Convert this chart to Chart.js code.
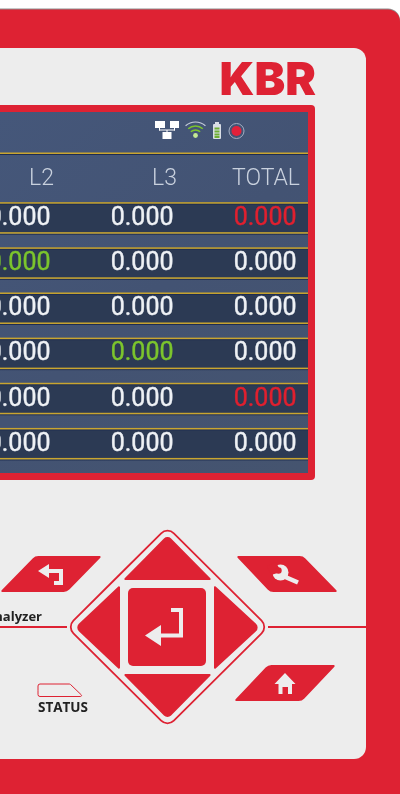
<!DOCTYPE html>
<html>
<head>
<meta charset="utf-8">
<title>KBR</title>
<style>
  html, body { margin: 0; padding: 0; background: #fff; }
  canvas { display: block; }
</style>
<script src="https://cdn.jsdelivr.net/npm/chart.js@4/dist/chart.umd.min.js"></script>
</head>
<body>
<canvas id="panelChart" width="400" height="794"></canvas>
<script>
// Table shown on the device screen
const columns = ['L2', 'L3', 'TOTAL'];
const rows = ['row1', 'row2', 'row3', 'row4', 'row5', 'row6'];
const l2Values = [0, 0, 0, 0, 0, 0];
const l3Values = [0, 0, 0, 0, 0, 0];
const totalValues = [0, 0, 0, 0, 0, 0];
const l2Status = ['ok', 'good', 'ok', 'ok', 'ok', 'ok'];
const l3Status = ['ok', 'ok', 'ok', 'good', 'ok', 'ok'];
const totalStatus = ['alarm', 'ok', 'ok', 'ok', 'alarm', 'ok'];

const RED = '#de2233';
const PANEL = '#ededed';
const statusColors = { ok: '#eef1f5', good: '#7cc52d', alarm: '#e0202f' };

// Polygon with rounded corners, radii per corner
function roundPoly(ctx, pts, radii) {
  ctx.beginPath();
  const n = pts.length;
  ctx.moveTo((pts[n - 1][0] + pts[0][0]) / 2, (pts[n - 1][1] + pts[0][1]) / 2);
  pts.forEach((p, i) => {
    const next = pts[(i + 1) % n];
    ctx.arcTo(p[0], p[1], next[0], next[1], Array.isArray(radii) ? radii[i] : radii);
  });
  ctx.closePath();
}

function fillPoly(ctx, pts, color, radii = 0) {
  roundPoly(ctx, pts, radii);
  ctx.fillStyle = color;
  ctx.fill();
}

function drawBody(ctx) {
  ctx.fillStyle = '#fff';
  ctx.fillRect(0, 0, 400, 794);
  fillPoly(ctx, [[-20, 8.5], [400, 8.5], [400, 820], [-20, 820]], '#8f8f8f', [0, 12, 0, 0]);
  fillPoly(ctx, [[-20, 9.5], [400, 9.5], [400, 820], [-20, 820]], RED, [0, 12, 0, 0]);
  fillPoly(ctx, [[-20, 48], [366, 48], [366, 759], [-20, 759]], PANEL, [0, 12, 12, 0]);

  // Screen frame and glass
  fillPoly(ctx, [[-20, 105], [315, 105], [315, 480], [-20, 480]], RED, [0, 4, 4, 0]);
  const glass = ctx.createLinearGradient(0, 112, 308, 473);
  glass.addColorStop(0, '#45577a');
  glass.addColorStop(0.5, '#435373');
  glass.addColorStop(1, '#45546f');
  ctx.fillStyle = glass;
  ctx.fillRect(0, 112, 308, 361);

  ctx.fillStyle = RED;
  ctx.font = '900 46px Inter';
  ctx.textAlign = 'right';
  ctx.textBaseline = 'alphabetic';
  ctx.fillText('KBR', 316, 95);
}

function drawStatusIcons(ctx) {
  // network
  ctx.fillStyle = '#fff';
  ctx.fillRect(155, 121, 10, 7);
  ctx.fillRect(170, 121, 9, 7);
  ctx.fillRect(162.5, 132, 9, 7);
  ctx.fillRect(159, 128, 1, 2.5);
  ctx.fillRect(174, 128, 1, 2.5);
  ctx.fillRect(159, 129.5, 16, 1);
  ctx.fillRect(166.5, 130, 1, 2);
  // wifi
  ctx.lineWidth = 1.2;
  ctx.strokeStyle = '#c7cedb';
  ctx.beginPath();
  ctx.arc(195.5, 137, 15, Math.PI * 1.27, Math.PI * 1.73);
  ctx.stroke();
  ctx.lineWidth = 1.5;
  ctx.strokeStyle = '#7cc52d';
  ctx.beginPath();
  ctx.arc(195.5, 137, 11, Math.PI * 1.27, Math.PI * 1.73);
  ctx.stroke();
  ctx.beginPath();
  ctx.arc(195.5, 137, 7, Math.PI * 1.27, Math.PI * 1.73);
  ctx.stroke();
  ctx.fillStyle = '#c4ea93';
  ctx.beginPath();
  ctx.arc(195.5, 135.5, 2.4, 0, Math.PI * 2);
  ctx.fill();
  // battery
  fillPoly(ctx, [[213, 124], [221, 124], [221, 139], [213, 139]], '#d9dee6', 1);
  ctx.fillRect(215, 122, 4, 2);
  ctx.fillStyle = '#6fae34';
  [127.5, 130.5, 133.5, 136].forEach(y => ctx.fillRect(214.5, y, 5, 2));
  // record
  ctx.strokeStyle = '#a3aec2';
  ctx.lineWidth = 1;
  ctx.beginPath();
  ctx.arc(236.5, 131, 7.5, 0, Math.PI * 2);
  ctx.stroke();
  ctx.fillStyle = '#e2213a';
  ctx.beginPath();
  ctx.arc(236.5, 131, 5, 0, Math.PI * 2);
  ctx.fill();
}

function drawWrench(ctx) {
  ctx.fillStyle = PANEL;
  ctx.beginPath();
  ctx.arc(280.5, 572.5, 8, 0, Math.PI * 2);
  ctx.fill();
  ctx.strokeStyle = PANEL;
  ctx.lineWidth = 4.5;
  ctx.lineCap = 'butt';
  ctx.beginPath();
  ctx.moveTo(283, 576);
  ctx.lineTo(298, 582.5);
  ctx.stroke();
  // jaw opening
  fillPoly(ctx, [[281, 572], [276, 562], [267, 566], [271, 575]], RED);
  ctx.fillStyle = RED;
  ctx.beginPath();
  ctx.arc(278.5, 570.5, 3.2, 0, Math.PI * 2);
  ctx.fill();
}

function drawKeypad(ctx) {
  ctx.strokeStyle = RED;
  ctx.lineWidth = 2;
  ctx.beginPath();
  ctx.moveTo(0, 627);
  ctx.lineTo(67, 627);
  ctx.moveTo(268, 627);
  ctx.lineTo(366, 627);
  ctx.stroke();

  roundPoly(ctx, [[167.5, 527], [268, 627], [167.5, 727], [67, 627]], 9);
  ctx.lineWidth = 1.8;
  ctx.stroke();

  fillPoly(ctx, [[167.5, 535], [212, 580], [123, 580]], RED, [5, 1, 1]);
  fillPoly(ctx, [[123, 674], [212, 674], [167.5, 719]], RED, [1, 1, 5]);
  fillPoly(ctx, [[120, 585], [120, 670], [75, 627.5]], RED, [1, 1, 5]);
  fillPoly(ctx, [[214, 585], [260, 627.5], [214, 670]], RED, [1, 5, 1]);
  fillPoly(ctx, [[128, 588], [206, 588], [206, 666], [128, 666]], RED, 5);

  // enter arrow
  fillPoly(ctx, [[171, 608], [183, 608], [183, 637.5], [161, 637.5], [161, 646], [145, 635.5], [161, 625], [161, 633.5], [179, 633.5], [179, 612], [171, 612]], PANEL);

  // back, tool and home keys
  fillPoly(ctx, [[35, 556], [102, 556], [67, 592], [0, 592]], RED, [8, 1, 8, 1]);
  fillPoly(ctx, [[236, 556], [303, 556], [338, 592], [270, 592]], RED, [1, 8, 1, 8]);
  fillPoly(ctx, [[268, 665], [336, 665], [302, 701], [234, 701]], RED, [8, 1, 8, 1]);

  fillPoly(ctx, [[38, 571], [49, 564], [49, 569], [63, 569], [63, 585], [54, 585], [54, 581], [59, 581], [59, 573], [49, 573], [49, 578]], PANEL);

  drawWrench(ctx);

  // home
  fillPoly(ctx, [[285, 673], [295.5, 684], [292, 684], [292, 694], [288, 694], [288, 687], [282.5, 687], [282.5, 694], [278.5, 694], [278.5, 684], [274.5, 684]], PANEL);

  // status led
  roundPoly(ctx, [[38, 684], [70, 684], [83, 696.5], [38, 696.5]], [2, 2, 1, 2]);
  ctx.strokeStyle = RED;
  ctx.lineWidth = 1;
  ctx.stroke();

  ctx.fillStyle = '#222';
  ctx.textBaseline = 'alphabetic';
  ctx.font = '700 13px "Open Sans"';
  ctx.textAlign = 'right';
  ctx.fillText('analyzer', 42, 621);
  ctx.font = '700 13.5px "Open Sans"';
  ctx.textAlign = 'center';
  ctx.fillText('STATUS', 63, 712);
}

const devicePlugin = {
  id: 'device',
  beforeDraw(chart) {
    const ctx = chart.ctx;
    ctx.save();
    drawBody(ctx);
    drawStatusIcons(ctx);
    drawKeypad(ctx);
    ctx.restore();
  },
  beforeDatasetsDraw(chart) {
    const ctx = chart.ctx;
    const yScale = chart.scales.y;
    ctx.save();
    const goldLine = y => {
      ctx.fillStyle = '#1e2d52';
      ctx.fillRect(0, y + 1, 308, 1);
      ctx.fillStyle = '#c9a530';
      ctx.fillRect(0, y - 0.5, 308, 1.5);
    };
    goldLine(153);
    rows.forEach(row => {
      const y = yScale.getPixelForValue(rows.indexOf(row));
      ctx.fillStyle = '#2c3a54';
      ctx.fillRect(0, y - 15, 308, 30);
      goldLine(y - 15);
      goldLine(y + 15);
    });
    ctx.restore();
  },
  afterDatasetsDraw(chart) {
    const ctx = chart.ctx;
    ctx.save();
    ctx.font = '400 25px Roboto';
    ctx.textAlign = 'right';
    ctx.textBaseline = 'middle';
    ctx.lineWidth = 0.4;
    chart.data.datasets.forEach((dataset, d) => {
      chart.getDatasetMeta(d).data.forEach((point, i) => {
        const text = dataset.values[i].toFixed(3);
        ctx.fillStyle = ctx.strokeStyle = statusColors[dataset.status[i]];
        ctx.fillText(text, point.x + 0.5, point.y + 1);
        ctx.strokeText(text, point.x + 0.5, point.y + 1);
      });
    });
    ctx.restore();
  }
};

function cellData(column, values) {
  return values.map((_, i) => ({ x: column, y: rows[i] }));
}

new Chart(document.getElementById('panelChart').getContext('2d'), {
  type: 'line',
  data: {
    labels: columns,
    datasets: [
      { label: 'L2', data: cellData('L2', l2Values), values: l2Values, status: l2Status },
      { label: 'L3', data: cellData('L3', l3Values), values: l3Values, status: l3Status },
      { label: 'TOTAL', data: cellData('TOTAL', totalValues), values: totalValues, status: totalStatus }
    ]
  },
  options: {
    responsive: false,
    animation: false,
    showLine: false,
    elements: { point: { radius: 0 } },
    layout: { padding: { left: 50, right: 104, top: 163.5, bottom: 328 } },
    plugins: { legend: { display: false }, tooltip: { enabled: false } },
    scales: {
      x: {
        type: 'category',
        position: 'top',
        labels: columns,
        offset: false,
        grid: { display: false, drawTicks: false },
        border: { display: false },
        ticks: {
          color: '#c9d1de',
          font: { family: 'Roboto', size: 23, weight: '300' },
          align: 'end',
          autoSkip: false,
          maxRotation: 0,
          labelOffset: 4,
          padding: 2
        }
      },
      y: {
        type: 'category',
        labels: rows,
        offset: true,
        display: false
      }
    }
  },
  plugins: [devicePlugin]
});
</script>
</body>
</html>
